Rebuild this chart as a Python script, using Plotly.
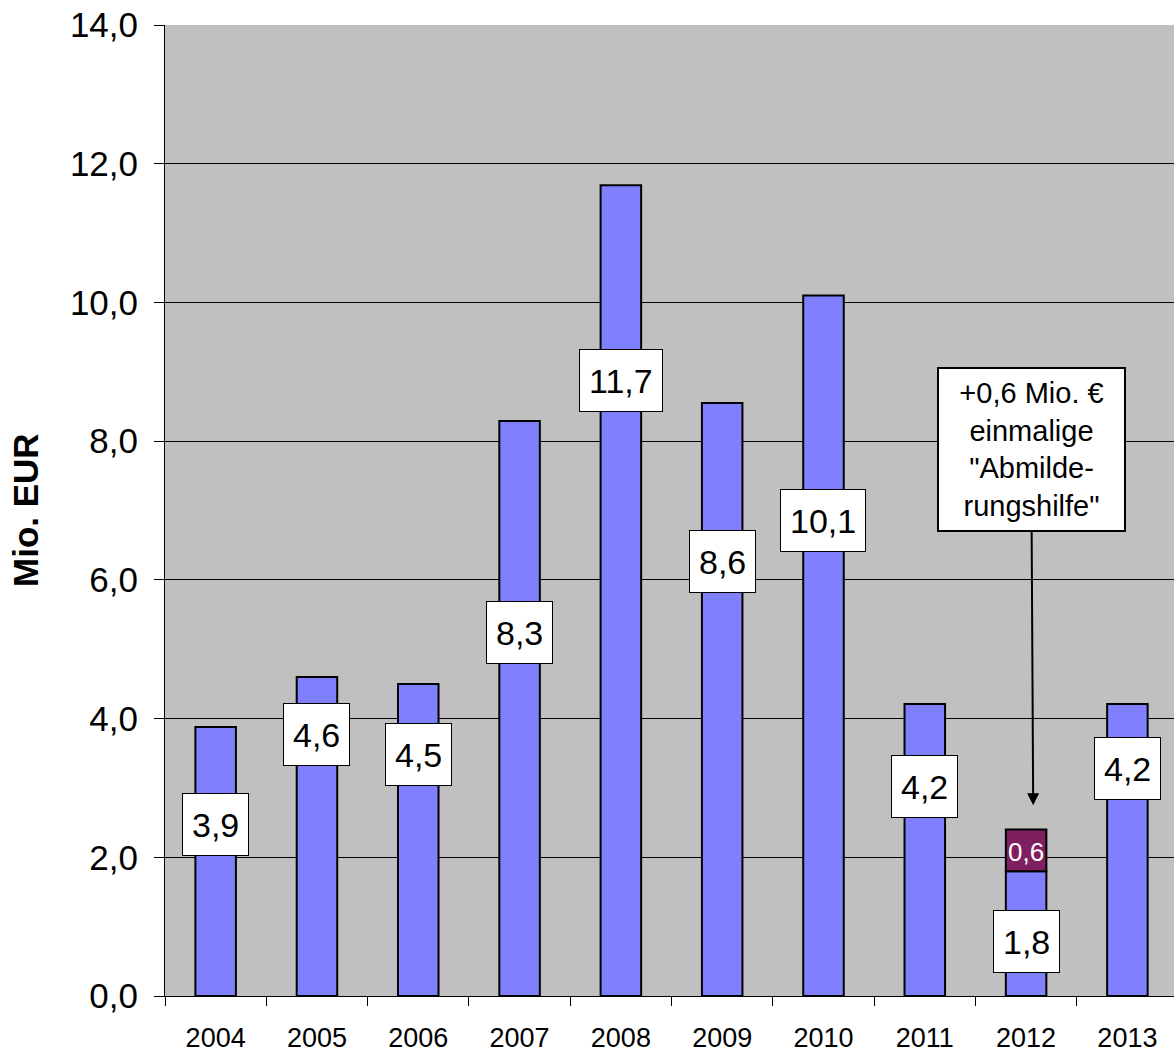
import plotly.graph_objects as go

years = ["2004", "2005", "2006", "2007", "2008", "2009", "2010", "2011", "2012", "2013"]
values = [3.88, 4.6, 4.5, 8.29, 11.69, 8.55, 10.1, 4.21, 1.8, 4.21]
value_labels = ["3,9", "4,6", "4,5", "8,3", "11,7", "8,6", "10,1", "4,2", "1,8", "4,2"]
label_y = [2.47, 3.77, 3.48, 5.24, 8.87, 6.26, 6.86, 3.02, 0.785, 3.28]
extra_year = ["2012"]
extra_values = [0.6]
extra_label = ["0,6"]
y_ticks = [0, 2, 4, 6, 8, 10, 12, 14]
y_ticktext = ["0,0", "2,0", "4,0", "6,0", "8,0", "10,0", "12,0", "14,0"]
note_text = "+0,6 Mio. €<br>einmalige<br>\"Abmilde-<br>rungshilfe\""

FONT = "Liberation Sans, Arial, sans-serif"
W, H = 1174, 1052
ML, MR, MT, MB = 165, 0, 25, 56
pw, ph = W - ML - MR, H - MT - MB

fig = go.Figure()
fig.add_trace(go.Bar(
    x=years, y=values, width=0.4,
    marker=dict(color="#8080FF", line=dict(color="black", width=2)),
    hoverinfo="skip", showlegend=False,
))
extra_base = [values[years.index(y)] for y in extra_year]
fig.add_trace(go.Bar(
    x=extra_year, y=extra_values, base=extra_base, width=0.4,
    marker=dict(color="#7F1F5F", line=dict(color="black", width=2)),
    hoverinfo="skip", showlegend=False,
))

annotations = []
for i, (lab, ly) in enumerate(zip(value_labels, label_y)):
    annotations.append(dict(
        x=i, y=ly, xref="x", yref="y", text=lab, showarrow=False,
        xanchor="center", yanchor="middle",
        font=dict(family=FONT, size=34, color="black"),
        height=43,
        bgcolor="white", bordercolor="black", borderwidth=1, borderpad=9,
    ))
for yr, ev, el, b in zip(extra_year, extra_values, extra_label, extra_base):
    annotations.append(dict(
        x=years.index(yr), y=b + ev / 2 - 0.03, xref="x", yref="y", text=el, showarrow=False,
        xanchor="center", yanchor="middle",
        font=dict(family=FONT, size=26, color="white"),
    ))

# note box with arrow
annotations.append(dict(
    x=8.07, y=2.75, xref="x", yref="y", text=note_text,
    showarrow=True, arrowhead=2, arrowsize=1.2, arrowwidth=2, arrowcolor="black",
    ax=-2, ay=-356, axref="pixel", ayref="pixel",
    font=dict(family=FONT, size=29, color="black"),
    width=179, height=155,
    bgcolor="white", bordercolor="black", borderwidth=2, borderpad=3,
    align="center", valign="middle",
))

# y-axis title
annotations.append(dict(
    x=(25 - ML) / pw, y=(H - MB - 510) / ph, xref="paper", yref="paper",
    text="<b>Mio. EUR</b>", showarrow=False, textangle=-90,
    xanchor="center", yanchor="middle",
    font=dict(family=FONT, size=35, color="black"),
))

fig.update_layout(
    annotations=annotations,
    width=W, height=H,
    margin=dict(l=ML, r=MR, t=MT, b=MB, pad=0),
    paper_bgcolor="white", plot_bgcolor="#C0C0C0",
    barmode="overlay",
    xaxis=dict(
        type="category", range=[-0.5, 9.46],
        tickson="boundaries", ticks="outside", ticklen=9, tickcolor="black", tickwidth=1,
        showline=True, linecolor="black", linewidth=1,
        showgrid=False, zeroline=False,
        tickfont=dict(family=FONT, size=27, color="black"),
        ticklabelstandoff=18,
    ),
    yaxis=dict(
        range=[0, 14], tickvals=y_ticks, ticktext=y_ticktext,
        ticks="outside", ticklen=10, tickcolor="black", tickwidth=1,
        showline=True, linecolor="black", linewidth=1,
        showgrid=True, gridcolor="black", gridwidth=1, zeroline=False,
        tickfont=dict(family=FONT, size=35, color="black"),
        ticklabelstandoff=9,
    ),
)

fig.write_html("out.html")
